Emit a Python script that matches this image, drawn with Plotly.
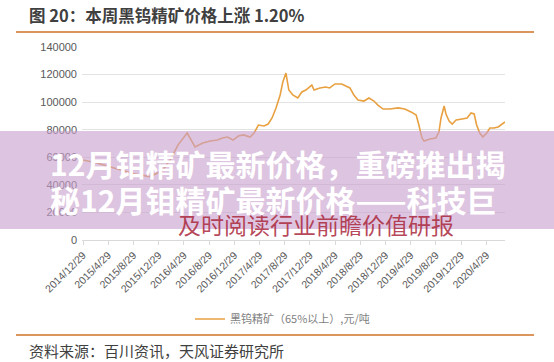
import plotly.graph_objects as go

# ---- data ----
dates = [
    "2014-12-29", "2015-03-01", "2015-06-01", "2015-09-01", "2015-11-15", "2016-01-15",
    "2016-02-22", "2016-04-01", "2016-05-15", "2016-06-22", "2016-07-29", "2016-09-04",
    "2016-10-08", "2016-11-01", "2016-11-26", "2016-12-23", "2017-01-17", "2017-02-10",
    "2017-03-15", "2017-04-03", "2017-04-24", "2017-05-21", "2017-06-10", "2017-06-29",
    "2017-07-18", "2017-08-07", "2017-08-20", "2017-09-04", "2017-09-18", "2017-10-07",
    "2017-10-31", "2017-11-20", "2017-12-09", "2017-12-29", "2018-01-07", "2018-01-18",
    "2018-02-15", "2018-03-15", "2018-04-03", "2018-04-29", "2018-06-01", "2018-06-20",
    "2018-07-10", "2018-07-29", "2018-08-18", "2018-09-16", "2018-10-10", "2018-11-03",
    "2018-11-22", "2018-12-17", "2019-01-19", "2019-02-28", "2019-04-01", "2019-05-01",
    "2019-05-26", "2019-06-08", "2019-06-23", "2019-07-03", "2019-08-01", "2019-08-29",
    "2019-09-13", "2019-09-23", "2019-10-08", "2019-10-17", "2019-11-01", "2019-11-16",
    "2019-12-05", "2020-01-03", "2020-01-27", "2020-02-15", "2020-03-01", "2020-03-13",
    "2020-03-28", "2020-04-12", "2020-05-01", "2020-05-16", "2020-06-05", "2020-06-25",
    "2020-07-13", "2020-07-28",
]
prices = [
    58000, 56000, 52000, 48000, 46000, 50000,
    58000, 69000, 77600, 67500, 70400, 71800,
    72500, 74000, 74700, 72500, 75400, 76200,
    74700, 77600, 83400, 82700, 84100, 88500,
    95700, 105200, 114600, 121100, 108800, 105200,
    103000, 107400, 108800, 111000, 112400, 108800,
    110300, 111000, 110300, 113200, 113200, 111700,
    110300, 105200, 101600, 100800, 103000, 100800,
    97900, 95000, 95000, 95800, 95000, 92900,
    90700, 83400, 74000, 71800, 73300, 74000,
    78300, 88500, 97200, 91400, 86300, 84100,
    87000, 87800, 88500, 92100, 91400, 83400,
    77600, 74700, 77600, 81200, 81200, 82000,
    84100, 85600,
]
tick_dates = ["2014-12-29", "2015-04-29", "2015-08-29", "2015-12-29", "2016-04-29",
              "2016-08-29", "2016-12-29", "2017-04-29", "2017-08-29", "2017-12-29",
              "2018-04-29", "2018-08-29", "2018-12-29", "2019-04-29", "2019-08-29",
              "2019-12-29", "2020-04-29"]
tick_labels = ["2014/12/29", "2015/4/29", "2015/8/29", "2015/12/29", "2016/4/29",
               "2016/8/29", "2016/12/29", "2017/4/29", "2017/8/29", "2017/12/29",
               "2018/4/29", "2018/8/29", "2018/12/29", "2019/4/29", "2019/8/29",
               "2019/12/29", "2020/4/29"]
y_ticks = [0, 20000, 40000, 60000, 80000, 100000, 120000, 140000]
series_name = "黑钨精矿（65%以上）,元/吨"
chart_title = "图 20：本周黑钨精矿价格上涨 1.20%"
source_text = "资料来源：百川资讯，天风证券研究所"
banner_line1 = "12月钼精矿最新价格，重磅推出揭"
banner_line2 = "秘12月钼精矿最新价格——科技巨"
watermark = "及时阅读行业前瞻价值研报"

W, H = 554, 362
L, R, T, B = 82, 505, 47, 240  # plot area in pixels


def px(x):
    return x / W


def py(y):
    return 1 - y / H


CJK = "Noto Sans CJK SC, Liberation Sans, sans-serif"
ORANGE = "#E8A040"
RULE = "#DA965C"

fig = go.Figure()
fig.add_trace(go.Scatter(
    x=dates, y=prices, mode="lines", name=series_name,
    line=dict(color=ORANGE, width=1.6),
))

fig.update_layout(
    width=W, height=H, autosize=False,
    margin=dict(l=0, r=0, t=0, b=0, pad=0, autoexpand=False),
    paper_bgcolor="white", plot_bgcolor="white",
    font=dict(family=CJK, color="#595959"),
    showlegend=True,
    legend=dict(orientation="h", x=px(190), y=py(319), xanchor="left", yanchor="middle",
                font=dict(size=11, color="#7F7F7F", family=CJK), itemwidth=30,
                bgcolor="rgba(0,0,0,0)"),
)
fig.update_xaxes(
    domain=[px(L), px(R)],
    type="date", range=["2014-12-24", "2020-07-28"], automargin=False,
    tickvals=tick_dates, ticktext=tick_labels, tickangle=-45,
    tickfont=dict(size=10.5, color="#595959", family="Liberation Sans, sans-serif"),
    showgrid=False, showline=True, linecolor="#D9D9D9", linewidth=1,
    ticks="outside", ticklen=4, tickcolor="#D9D9D9", zeroline=False,
)
fig.update_yaxes(
    domain=[py(B), py(T)],
    range=[0, 140000], tickvals=y_ticks, ticktext=[str(v) for v in y_ticks], automargin=False,
    tickfont=dict(size=11, color="#595959", family="Liberation Sans, sans-serif"),
    showgrid=True, gridcolor="#E3E3E3", gridwidth=1, zeroline=False, showline=False,
    ticks="", ticklabelstandoff=4,
)

# header and footer rules, then the translucent banner
fig.add_shape(type="line", xref="paper", yref="paper", x0=px(16), x1=px(534),
              y0=py(32), y1=py(32), line=dict(color=RULE, width=2), layer="above")
fig.add_shape(type="line", xref="paper", yref="paper", x0=px(16), x1=px(534),
              y0=py(335), y1=py(335), line=dict(color=RULE, width=2), layer="above")
fig.add_shape(type="rect", xref="paper", yref="paper", x0=0, x1=1, y0=py(229), y1=py(131),
              fillcolor="rgba(200,160,205,0.62)", line=dict(width=0), layer="above")

ann = [
    dict(text="<b>" + chart_title + "</b>", x=px(27), y=py(15), xanchor="left", yanchor="middle",
         font=dict(size=16.5, color="#404040", family=CJK)),
    dict(text=source_text, x=px(27), y=py(350), xanchor="left", yanchor="middle",
         font=dict(size=15, color="#404040", family=CJK)),
    dict(text=watermark, x=px(316), y=py(224), xanchor="center", yanchor="middle",
         font=dict(size=23, color="rgba(170,40,60,0.85)", family=CJK)),
    dict(text="<b>" + banner_line1 + "</b>", x=px(48), y=py(163), xanchor="left", yanchor="middle",
         font=dict(size=30, color="white", family=CJK)),
    dict(text="<b>" + banner_line2 + "</b>", x=px(48), y=py(199), xanchor="left", yanchor="middle",
         font=dict(size=30, color="white", family=CJK)),
]
for a in ann:
    a.update(xref="paper", yref="paper", showarrow=False)
fig.update_layout(annotations=ann)

fig.write_html("out.html", config={"displayModeBar": False},
               post_script="document.body.style.margin='0';document.body.style.padding='0';")
